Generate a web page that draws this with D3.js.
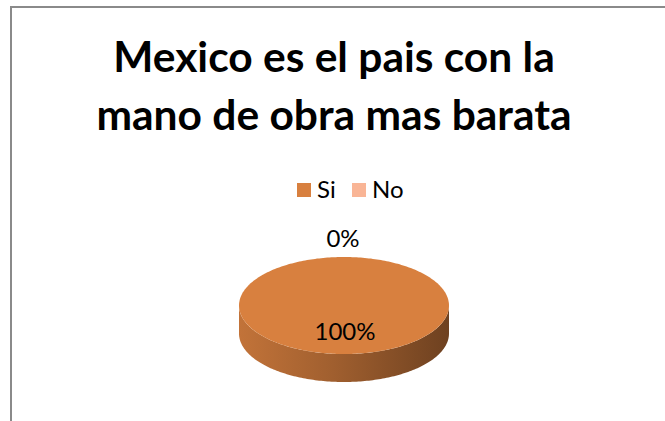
<!DOCTYPE html>
<html>
<head>
<meta charset="utf-8">
<script src="https://d3js.org/d3.v7.min.js"></script>
<style>
  body { margin: 0; background: #fff; }
  text { font-family: Lato, "Open Sans", sans-serif; }
</style>
</head>
<body>
<div id="pie"></div>
<script>

// data
var titleLines = ["Mexico es el pais con la", "mano de obra mas barata"];
var categories = ["Si", "No"];
var values = [100, 0];

var width = 665, height = 421;

var svg = d3.select("#pie")
  .append("svg")
    .attr("width", width)
    .attr("height", height);

// chart frame (runs off the right and bottom edges)
svg.append("rect")
  .attr("x", 11).attr("y", 7)
  .attr("width", 720).attr("height", 520)
  .attr("fill", "#fff")
  .attr("stroke", "#8a8a8a")
  .attr("stroke-width", 2);

// title
svg.selectAll(".title").data(titleLines)
  .enter().append("text")
    .attr("class", "title")
    .attr("x", 334)
    .attr("y", function(d, i) { return 72 + i * 58; })
    .attr("text-anchor", "middle")
    .attr("font-weight", "bold")
    .attr("font-size", "42.5px")
    .attr("fill", "#000")
    .text(function(d) { return d; });

// colours
var color = d3.scaleOrdinal()
  .domain(categories)
  .range(["#d8803f", "#f9b596"]);

// legend
var legendX = d3.scalePoint().domain(categories).range([297, 352]);
var legend = svg.selectAll(".legend").data(categories)
  .enter().append("g")
    .attr("class", "legend")
    .attr("transform", function(d) { return "translate(" + legendX(d) + ",183)"; });
legend.append("rect")
  .attr("width", 14).attr("height", 14)
  .attr("fill", function(d) { return color(d); });
legend.append("text")
  .attr("x", 20).attr("y", 14.5)
  .attr("font-size", "24px")
  .attr("fill", "#000")
  .text(function(d) { return d; });

// 3d pie
var cx = 344, cy = 305.5, rx = 105, ry = 48.5, depth = 28;
var total = d3.sum(values);
var pie = d3.pie().sort(null).value(function(d) { return d; });
var arcs = pie(values);

function pt(a, dy) {
  return [cx + rx * Math.sin(a), cy - ry * Math.cos(a) + (dy || 0)];
}
function arcPts(a0, a1, dy) {
  var n = Math.max(2, Math.ceil((a1 - a0) / 0.02));
  return d3.range(n + 1).map(function(i) { return pt(a0 + (a1 - a0) * i / n, dy); });
}

var defs = svg.append("defs");
categories.forEach(function(c, i) {
  var base = d3.color(color(c));
  var g = defs.append("linearGradient")
    .attr("id", "side" + i)
    .attr("gradientUnits", "userSpaceOnUse")
    .attr("x1", cx - rx).attr("x2", cx + rx)
    .attr("y1", 0).attr("y2", 0);
  g.append("stop").attr("offset", "0%").attr("stop-color", base.darker(0.3));
  g.append("stop").attr("offset", "45%").attr("stop-color", base.darker(0.85));
  g.append("stop").attr("offset", "100%").attr("stop-color", base.darker(1.9));
});

var line = d3.line();

// side walls (front half only)
arcs.forEach(function(d, i) {
  var a0 = Math.max(d.startAngle, Math.PI / 2);
  var a1 = Math.min(d.endAngle, 3 * Math.PI / 2);
  if (a1 <= a0) return;
  var topPts = arcPts(a0, a1, 0);
  var botPts = arcPts(a0, a1, depth).reverse();
  svg.append("path")
    .attr("d", line(topPts.concat(botPts)) + "Z")
    .attr("fill", "url(#side" + i + ")");
});

// top faces
arcs.forEach(function(d, i) {
  if (d.endAngle - d.startAngle <= 0) return;
  var p = arcPts(d.startAngle, d.endAngle, 0);
  if (d.endAngle - d.startAngle < 2 * Math.PI - 1e-6) p = [[cx, cy]].concat(p);
  svg.append("path")
    .attr("d", line(p) + "Z")
    .attr("fill", color(categories[i]));
});

// data labels
arcs.forEach(function(d, i) {
  var mid = (d.startAngle + d.endAngle) / 2;
  var pct = Math.round(d.value / total * 100) + "%";
  var inside = d.value > 0;
  var k = inside ? 0.53 : 1.39;
  var p = [cx + rx * k * Math.sin(mid), cy - ry * k * Math.cos(mid)];
  svg.append("text")
    .attr("x", p[0] + (inside ? 1 : -1))
    .attr("y", p[1] + 8.5)
    .attr("text-anchor", "middle")
    .attr("font-size", "24px")
    .attr("fill", "#000")
    .text(pct);
});

</script>
</body>
</html>
